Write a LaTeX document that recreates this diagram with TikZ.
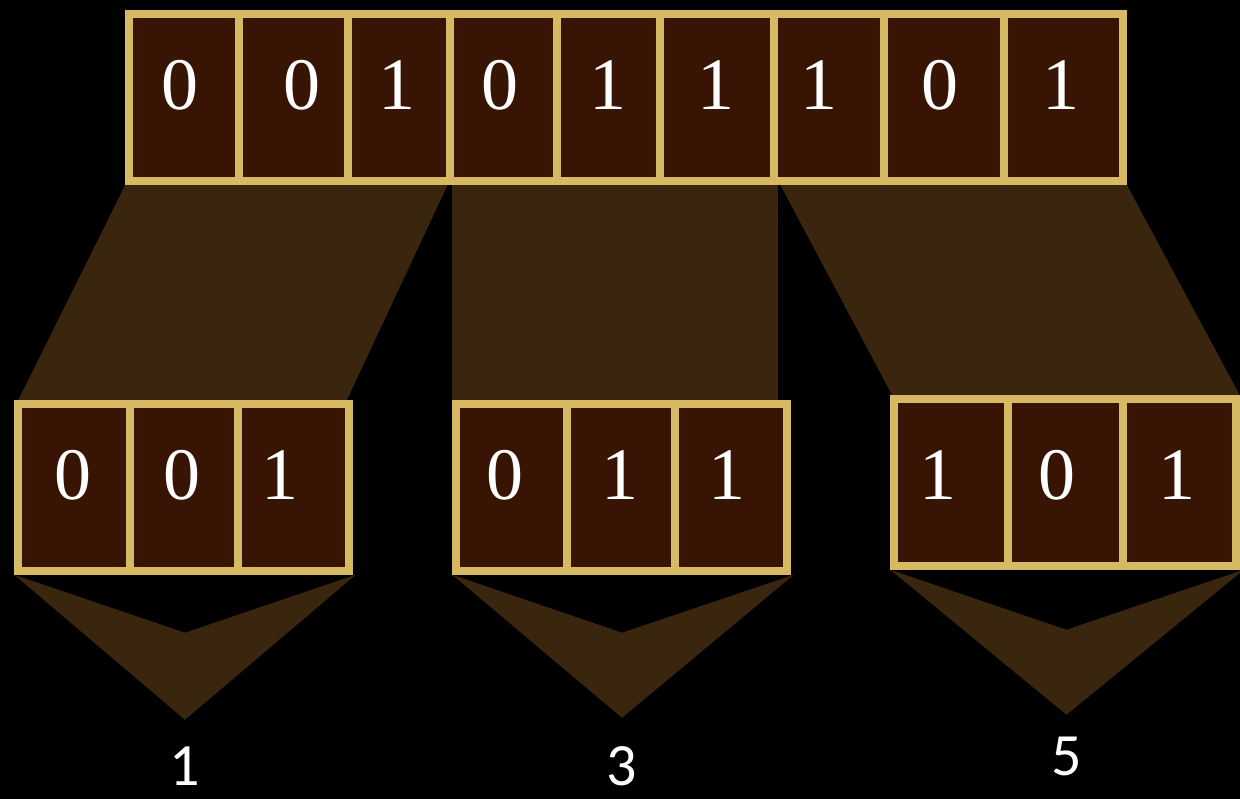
\documentclass[tikz,border=0pt]{standalone}
\usepackage{fontspec}
\setmainfont{Liberation Serif}
\newfontfamily\labelfont{Carlito}
\usetikzlibrary{calc}
\definecolor{gold}{RGB}{214,185,98}
\definecolor{cellbrown}{RGB}{56,20,4}
\definecolor{bandbrown}{RGB}{58,37,14}
\pgfdeclarelayer{bglayer}
\pgfdeclarelayer{midlayer}
\pgfsetlayers{bglayer,midlayer,main}
\tikzset{
  cell/.style={draw=gold, fill=cellbrown, line width=7.5pt, inner sep=0pt, minimum height=167pt},
  digit/.style={text=white, font=\fontsize{74}{74}\selectfont, inner sep=0pt},
  band/.style={fill=bandbrown, draw=none},
  result/.style={text=white, font=\labelfont\fontsize{60}{60}\selectfont, inner sep=0pt}
}
\begin{document}
\begin{tikzpicture}[x=1pt,y=-1pt]
\begin{pgfonlayer}{bglayer}
\fill[black] (0,0) rectangle (1240,799);
\end{pgfonlayer}
\useasboundingbox (0,0) rectangle (1240,799);

% top row
\foreach \n/\l/\r/\dx/\d in {1/129/239/180/0, 2/239/348/302/0, 3/348/450/397/1, 4/450/557/500/0, 5/557/660/608/1, 6/660/774/716/1, 7/774/884/819/1, 8/884/1004/940/0, 9/1004/1123/1061/1}{
  \node[cell, minimum width={(\r-\l)*1pt}] (t\n) at ({(\l+\r)/2},97.5) {};
  \node[digit] (t\n d) at (\dx,85) {\d};
}

% bottom groups
\foreach \g/\n/\l/\r/\yc/\dx/\dy/\d in {1/1/18/130/487.5/73/475/0, 1/2/130/238/487.5/182/475/0, 1/3/238/349/487.5/280/475/1,
                          2/1/456/567/487.5/505/475/0, 2/2/567/675/487.5/620/475/1, 2/3/675/787/487.5/727/475/1,
                          3/1/894/1008/482.5/938/475/1, 3/2/1008/1123/482.5/1057/475/0, 3/3/1123/1236/482.5/1177/475/1}{
  \node[cell, minimum width={(\r-\l)*1pt}] (g\g c\n) at ({(\l+\r)/2},\yc) {};
  \node[digit] (g\g c\n d) at (\dx,\dy) {\d};
}

% result labels
\node[result] (r1) at (185,766) {1};
\node[result] (r3) at (622,766) {3};
\node[result] (r5) at (1067,756) {5};

% bands and chevrons behind the cells
\begin{pgfonlayer}{midlayer}
  % left band: top cells 1-3 to group 1
  \path[band] (t1.south west) -- ($(t3.south east)+(-6,0)$) -- ($(g1c3.north east)+(-6,0)$) -- ($(g1c1.north west)+(4,0)$) -- cycle;
  % middle band: top cells 4-6 straight down to group 2
  \path[band] ($(t4.south west)+(6,0)$) -- (t6.south east) -- (t6.south east |- g2c3.north) -- ($(t4.south west |- g2c1.north)+(6,0)$) -- cycle;
  % right band: top cells 7-9 to group 3
  \path[band] ($(t7.south west)+(10,0)$) -- (t9.south east) -- (g3c3.north east) -- ($(g3c1.north west)+(2,0)$) -- cycle;
  % chevrons under each group
  \path[band] (g1c1.south west) -- ($(g1c2.south)+(1,58)$) -- ($(g1c3.south east)+(3,0)$) -- ($(g1c2.south)+(1,145)$) -- cycle;
  \path[band] (g2c1.south west) -- ($(g2c2.south)+(1,58)$) -- ($(g2c3.south east)+(3,0)$) -- ($(g2c2.south)+(1,143)$) -- cycle;
  \path[band] (g3c1.south west) -- ($(g3c2.south)+(1,60)$) -- ($(g3c3.south east)+(4,0)$) -- ($(g3c2.south)+(1,145)$) -- cycle;
\end{pgfonlayer}
\end{tikzpicture}
\end{document}
